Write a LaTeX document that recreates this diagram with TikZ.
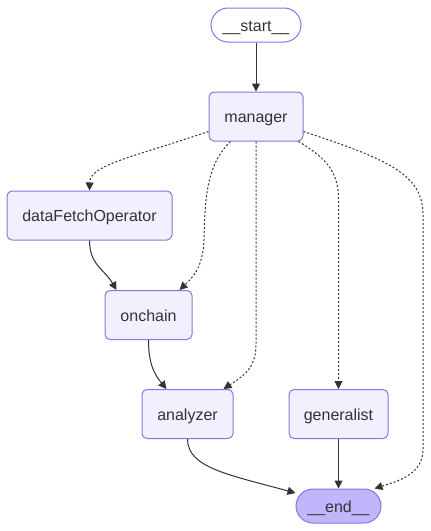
\documentclass[tikz,border=0pt]{standalone}
\usepackage{fontspec}
\setmainfont{Liberation Sans}
\usetikzlibrary{arrows.meta,calc}
\definecolor{nodefill}{HTML}{F2F0FF}
\definecolor{nodestroke}{HTML}{9370DB}
\definecolor{endfill}{HTML}{BFB6FC}
\definecolor{txt}{HTML}{333333}
\definecolor{edgecol}{HTML}{333333}
\begin{document}
\begin{tikzpicture}[x=1pt,y=-1pt,
  box/.style={draw=nodestroke, fill=nodefill, line width=1pt, rounded corners=5pt,
    text=txt, font=\fontsize{16}{19}\selectfont, inner sep=0pt, minimum height=49pt,
    text height=12pt, text depth=0pt},
  stadium/.style={box, rounded corners=17pt, minimum height=34pt},
  solidedge/.style={draw=edgecol, line width=1pt, -{Triangle[length=8pt,width=8pt]}},
  dotedge/.style={solidedge, dash pattern=on 2pt off 2pt}
]
\useasboundingbox (0,0) rectangle (431,531);
\node[stadium, fill=white, minimum width=90pt] (start) at (256,25) {\_\_start\_\_};
\node[box, minimum width=94pt] (manager) at (256,116.5) {manager};
\node[box, minimum width=165pt] (dfo) at (89.5,215.5) {dataFetchOperator};
\node[box, minimum width=87pt] (onchain) at (148.5,315) {onchain};
\node[box, minimum width=91pt] (analyzer) at (187.5,414) {analyzer};
\node[box, minimum width=99pt] (generalist) at (338.5,414) {generalist};
\node[stadium, fill=endfill, minimum width=85pt] (end) at (338.5,506) {\_\_end\_\_};

\draw[solidedge] (start) -- (manager);
\draw[dotedge] ($(manager.south west)+(0,-10)$) .. controls (130,158) and (90,165) .. (dfo.north);
\draw[dotedge] ($(manager.south west)+(22,0)$) .. controls (206,165) and (205,200) .. (204,240)
  .. controls (203,268) and (192,278) .. ($(onchain.north east)+(-13,0)$);
\draw[dotedge] (manager.south) -- (256,345) .. controls (256,370) and (240,378) .. ($(analyzer.north east)+(-10,0)$);
\draw[dotedge] ($(manager.south east)+(-5,0)$) .. controls (330,160) and (338.5,175) .. (338.5,200) -- (generalist.north);
\draw[dotedge] ($(manager.south east)+(0,-10)$) .. controls (390,160) and (423,175) .. (423,215) -- (423,450)
  .. controls (423,475) and (395,482) .. ($(end.north east)+(-7,0)$);
\draw[solidedge] (dfo.south) .. controls (89.5,265) and (105,270) .. ($(onchain.north west)+(12,0)$);
\draw[solidedge] (onchain.south) .. controls (148.5,365) and (155,375) .. ($(analyzer.north west)+(25,0)$);
\draw[solidedge] (analyzer.south) .. controls (187.5,468) and (230,475) .. ($(end.west)+(0,-13)$);
\draw[solidedge] (generalist) -- (end);
\end{tikzpicture}
\end{document}
